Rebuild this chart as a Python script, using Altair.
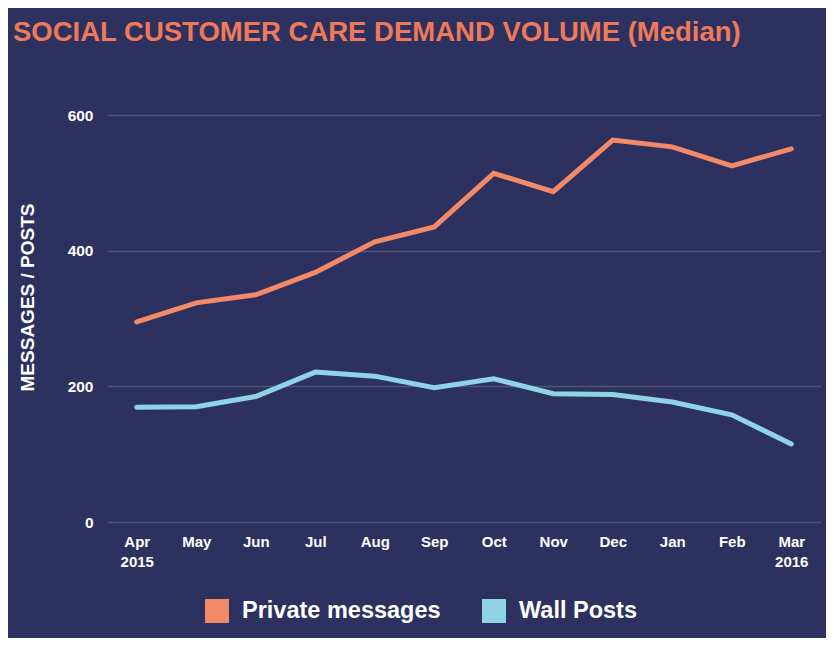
import altair as alt
import pandas as pd

months = ["Apr", "May", "Jun", "Jul", "Aug", "Sep", "Oct", "Nov", "Dec", "Jan", "Feb", "Mar"]
year_labels = {"Apr": "2015", "Mar": "2016"}
private_messages = [295, 323, 335, 368, 413, 435, 514, 487, 563, 553, 525, 550]
wall_posts = [169, 170, 185, 221, 215, 198, 211, 189, 188, 177, 158, 115]
series_names = ["Private messages", "Wall Posts"]
series_colors = ["#f28a68", "#8fd3e6"]

rows = []
for i, m in enumerate(months):
    rows.append({"month": m, "series": series_names[0], "value": private_messages[i], "order": i})
    rows.append({"month": m, "series": series_names[1], "value": wall_posts[i], "order": i})
df = pd.DataFrame(rows)

label_expr = " : ".join(
    [f"datum.value == '{k}' ? ['{k}', '{v}']" for k, v in year_labels.items()]
) + " : datum.value"

FONT = "Liberation Sans"

x_enc = alt.X("month:N", sort=months, scale=alt.Scale(type="point", padding=0.5),
              axis=alt.Axis(title=None, labelExpr=label_expr, labelAngle=0, labelPadding=12,
                            labelFontSize=15, labelFontWeight="bold", labelColor="#ffffff",
                            labelFont=FONT, labelLineHeight=20, ticks=False, domain=False, grid=False,
                            labelBaseline="top"))
y_enc = alt.Y("value:Q", scale=alt.Scale(domain=[0, 600], nice=False),
              axis=alt.Axis(title="MESSAGES / POSTS", values=[0, 200, 400, 600], labelPadding=14,
                            labelFontSize=15.5, labelFontWeight="bold", labelColor="#ffffff",
                            labelFont=FONT, ticks=False, domain=False, grid=True,
                            gridColor="#ffffff", gridOpacity=0.18, gridWidth=1.5,
                            titleFont=FONT, titleFontSize=19, titleFontWeight="bold",
                            titleColor="#ffffff", titleX=-80, titleY=182, titleAngle=-90,
                            titleAlign="center", titleBaseline="middle"))
color_enc = alt.Color("series:N", scale=alt.Scale(domain=series_names, range=series_colors),
                      legend=alt.Legend(title=None, orient="none", legendX=98, legendY=484,
                                        direction="horizontal", symbolType="square",
                                        symbolSize=576, symbolStrokeWidth=0, symbolOpacity=1,
                                        labelFont=FONT, labelFontSize=23.5, labelFontWeight="bold",
                                        labelColor="#ffffff", labelOffset=13, columnPadding=41,
                                        labelLimit=400))

base = alt.Chart(df)

lines = base.mark_line(strokeWidth=5, strokeJoin="miter", strokeCap="round").encode(
    x=x_enc, y=y_enc, color=color_enc, detail="series:N", order="order:Q",
)
squares = base.mark_square(size=0, opacity=1, filled=True).encode(
    x=x_enc, y=y_enc, color=color_enc,
)

chart = alt.layer(lines, squares).properties(
    width=714,
    height=407,
    autosize=alt.AutoSizeParams(type="none"),
    padding={"left": 99, "top": 107, "right": 5, "bottom": 116},
    background="#2d3160",
    title=alt.TitleParams(
        "SOCIAL CUSTOMER CARE DEMAND VOLUME (Median)",
        anchor="start", frame="group", dx=-94, offset=62,
        font=FONT, fontSize=27.5, fontWeight="bold", color="#ee7a59",
    ),
).configure_view(stroke=None)

chart.save("out.html", embed_options={"renderer": "svg", "actions": False})
